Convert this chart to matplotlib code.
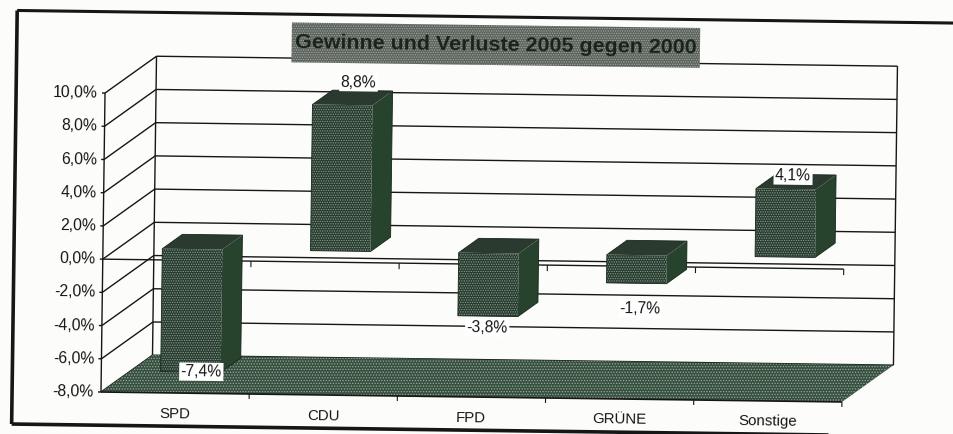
import matplotlib
matplotlib.use("Agg")
import matplotlib.pyplot as plt
from matplotlib.patches import Polygon
from matplotlib.transforms import Affine2D

plt.rcParams["font.family"] = ["Liberation Sans", "DejaVu Sans"]
plt.rcParams["hatch.linewidth"] = 0.6

PARTIES = ["SPD", "CDU", "FPD", "GRÜNE", "Sonstige"]
CHANGE = [-7.4, 8.8, -3.8, -1.7, 4.1]
Y_TICKS = [-8, -6, -4, -2, 0, 2, 4, 6, 8, 10]
TITLE = "Gewinne und Verluste 2005 gegen 2000"

# Fake 3D: one category is this many pixels wide, one percent this many high,
# and the depth of the box is a shift in data units. The page is scanned crooked.
PX_X = 148.2
PX_Y = 16.61
DEPTH_X = 51 / PX_X
DEPTH_Y = 37.5 / PX_Y
ORIGIN = (101, 434 - 392)
TILT = -0.77

BAR_WIDTH = 0.405
BAR_D0 = 0.30
BAR_D1 = 0.69

GREEN = "#283b2f"
FLOOR = "#36503f"
SIDE = "#27432d"
TOP = "#2a3a2e"
GRAIN = "#8b9c90"
PAPER = "#fcfcfa"
INK = "#161616"

# where the value label sits relative to the bar end, in data units
LABEL_SHIFT = [(0.175, 0.70), (0.21, 2.05), (0.10, -0.02), (0.13, -0.85), (0.15, 1.48)]


fig = plt.figure(figsize=(9.54, 4.34), dpi=100, facecolor=PAPER)
ax = fig.add_axes([0, 0, 1, 1])
ax.set_xlim(-ORIGIN[0] / PX_X, (954 - ORIGIN[0]) / PX_X)
ax.set_ylim(-8 - ORIGIN[1] / PX_Y, -8 + (434 - ORIGIN[1]) / PX_Y)
ax.axis("off")
tilted = ax.transData + Affine2D().rotate_deg_around(ORIGIN[0], ORIGIN[1], TILT)


def shift(x, y, d):
    return x + d * DEPTH_X, y + d * DEPTH_Y


def line(xs, ys, lw=1.0, color=INK, z=2):
    ax.plot(xs, ys, color=color, lw=lw, transform=tilted, zorder=z,
            solid_capstyle="butt", clip_on=False)


def face(points, color, hatch=None, grain=GRAIN, z=3):
    ax.add_patch(Polygon(points, closed=True, facecolor=color, edgecolor=grain if hatch else color,
                         hatch=hatch, lw=0, transform=tilted, zorder=z))


def draw_bar(i, value):
    x0 = i + 0.5 - BAR_WIDTH / 2
    x1 = i + 0.5 + BAR_WIDTH / 2
    lo, hi = min(value, 0), max(value, 0)
    fl, fh = shift(x0, lo, BAR_D0), shift(x0, hi, BAR_D0)
    rl, rh = shift(x1, lo, BAR_D0), shift(x1, hi, BAR_D0)
    bl, bh = shift(x1, lo, BAR_D1), shift(x1, hi, BAR_D1)
    tb = shift(x0, hi, BAR_D1)
    face([rl, bl, bh, rh], SIDE, z=4)
    face([fh, rh, bh, tb], TOP, z=4)
    face([fl, rl, rh, fh], GREEN, hatch=".......", z=5)
    line([fl[0], rl[0], bl[0], bh[0], tb[0], fh[0], fl[0]],
         [fl[1], rl[1], bl[1], bh[1], tb[1], fh[1], fl[1]], lw=0.6, color="#16251a", z=6)


# outer frame of the chart
line([-0.6, -0.6], [-10.0, 14.9], lw=2.6, z=1)
line([-0.6, 5.85], [14.9, 14.9], lw=2.2, z=1)
line([-0.6, 5.85], [-10.0, -10.0], lw=2.6, z=1)

# back wall and side wall
for v in Y_TICKS:
    bx0, by = shift(0, v, 1)
    bx1, _ = shift(5, v, 1)
    line([bx0, bx1], [by, by], lw=1.0)
    line([0, bx0], [v, by], lw=1.0)
    line([-3 / PX_X, 0], [v, v], lw=1.0)
    ax.text(-7 / PX_X, v, f"{v:.1f}%".replace(".", ","), ha="right", va="center",
            fontsize=11.3, color=INK, rotation=TILT, transform=tilted)
line([0, 0], [-8, 10], lw=1.0)
line(*zip(shift(0, -8, 1), shift(0, 10, 1)), lw=1.0)
line(*zip(shift(5, -8, 1), shift(5, 10, 1)), lw=1.0)

# floor
face([(0, -8), (5, -8), shift(5, -8, 1), shift(0, -8, 1)], FLOOR, hatch="......", grain="#9aa89e", z=3)
line([0, 5], [-8, -8], lw=1.2, z=4)

# category axis at zero and the ticks on the floor edge
line([0, 5], [0, 0], lw=1.0, z=3)
for i in range(1, 6):
    line([i, i], [0, -6 / PX_Y], lw=0.8, z=3)
    line([i, i], [-8, -8 - 5 / PX_Y], lw=0.8, z=3)

for i, name in enumerate(PARTIES):
    ax.text(i + 0.5, -9.25, name, ha="center", va="center", fontsize=10.8, color=INK,
            rotation=TILT, transform=tilted)

for i, value in enumerate(CHANGE):
    draw_bar(i, value)

for i, value in enumerate(CHANGE):
    dx, dy = LABEL_SHIFT[i]
    ax.text(i + 0.5 + dx, value + dy, f"{value:.1f}%".replace(".", ","), ha="center", va="center",
            fontsize=11.3, color=INK, rotation=TILT, transform=tilted, zorder=8,
            bbox=dict(boxstyle="square,pad=0.1", facecolor="white", edgecolor="none"))

# title box
face([(1.255, 12.0), (4.01, 12.0), (4.01, 14.4), (1.255, 14.4)], "#5c635d", hatch=".......",
     grain="#a3a8a3", z=7)
ax.text(2.633, 13.2, TITLE, ha="center", va="center", fontsize=15.4, fontweight="bold",
        color="#18231c", rotation=TILT, transform=tilted, zorder=8)

fig.savefig("out.png", dpi=100, facecolor=PAPER)
